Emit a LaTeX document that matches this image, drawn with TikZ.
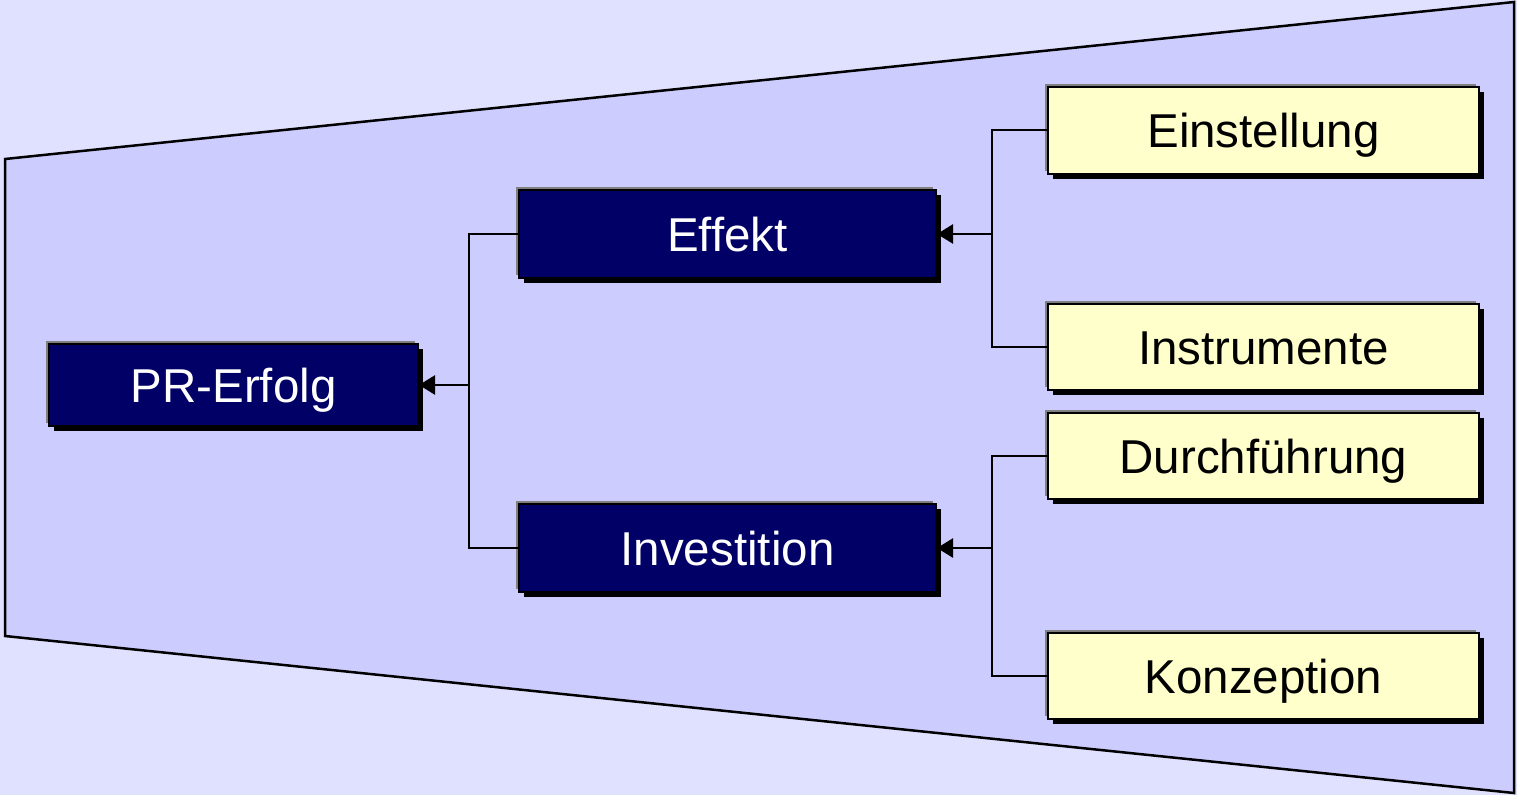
\documentclass[tikz,border=0pt]{standalone}
\usepackage{fontspec}
\setmainfont{Liberation Sans}
\usetikzlibrary{arrows.meta,shadows}
\definecolor{outerbg}{HTML}{E0E0FF}
\definecolor{trapfill}{HTML}{CCCCFF}
\definecolor{navybox}{HTML}{000066}
\definecolor{yellowbox}{HTML}{FFFFCC}
\definecolor{edgegray}{HTML}{808080}
\tikzset{
  basebox/.style={draw=black, line width=2pt, inner sep=0pt,
    font=\fontsize{47.5}{52}\selectfont, text height=34pt, text depth=0pt,
    general shadow={shadow xshift=-3pt, shadow yshift=3pt, fill=edgegray},
    general shadow={shadow xshift=5pt, shadow yshift=-5pt, fill=black}},
  darkbox/.style={basebox, fill=navybox, text=white},
  lightbox/.style={basebox, fill=yellowbox, text=black},
  conn/.style={draw=black, line width=2.5pt},
  arr/.style={conn, -{Triangle[length=16pt,width=19pt]}},
}
\begin{document}
\begin{tikzpicture}[x=1pt,y=-1pt]
\useasboundingbox (0,0) rectangle (1517,795);
\fill[outerbg] (0,0) rectangle (1517,795);
\filldraw[fill=trapfill, draw=black, line width=2.5pt]
  (5,159) -- (1514,2) -- (1514,793) -- (5,636) -- cycle;

\node[darkbox, minimum width=369pt, minimum height=82pt] (pr) at (233.5,385) {PR-Erfolg};
\node[darkbox, minimum width=417pt, minimum height=88pt] (eff) at (727.5,234) {Effekt};
\node[darkbox, minimum width=417pt, minimum height=88pt] (inv) at (727.5,548) {Investition};
\node[lightbox, minimum width=431pt, minimum height=87pt] (ein) at (1263.5,130) {Einstellung};
\node[lightbox, minimum width=431pt, minimum height=86pt] (ins) at (1263.5,347) {Instrumente};
\node[lightbox, minimum width=431pt, minimum height=86pt] (dur) at (1263.5,456) {Durchführung};
\node[lightbox, minimum width=431pt, minimum height=86pt] (kon) at (1263.5,676) {Konzeption};

\coordinate (j1) at (469,385);
\coordinate (j2) at (992,234);
\coordinate (j3) at (992,548);

\draw[conn] (eff.west) -| (j1) |- (inv.west);
\draw[arr] (j1) -- (pr.east);
\draw[conn] (ein.west) -| (j2) |- (ins.west);
\draw[arr] (j2) -- (eff.east);
\draw[conn] (dur.west) -| (j3) |- (kon.west);
\draw[arr] (j3) -- (inv.east);
\end{tikzpicture}
\end{document}
